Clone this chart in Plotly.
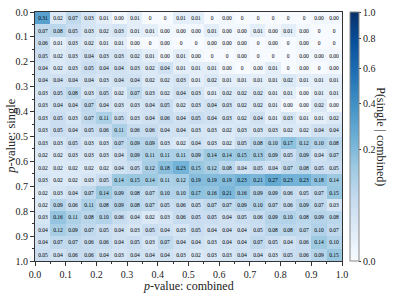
import numpy as np
import plotly.graph_objects as go

# bin centres (p-value bins of width 0.05)
p_combined_bins = [0.025, 0.075, 0.125, 0.175, 0.225, 0.275, 0.325, 0.375, 0.425, 0.475,
                   0.525, 0.575, 0.625, 0.675, 0.725, 0.775, 0.825, 0.875, 0.925, 0.975]
p_single_bins = list(p_combined_bins)
tick_vals = [0.0, 0.1, 0.2, 0.3, 0.4, 0.5, 0.6, 0.7, 0.8, 0.9, 1.0]
tick_labels = ["0.0", "0.1", "0.2", "0.3", "0.4", "0.5", "0.6", "0.7", "0.8", "0.9", "1.0"]
cbar_vals = [0.0, 0.2, 0.4, 0.6, 0.8, 1.0]
cbar_labels = ["0.0", "0.2", "0.4", "0.6", "0.8", "1.0"]

T = 0.001  # non-zero value that displays as 0.00

row_00 = [0.31, 0.02, 0.07, 0.03, 0.01, T, 0.01, 0, 0, 0.01, 0.01, 0, T, 0, 0, 0, 0, 0, T, T]
row_01 = [0.07, 0.08, 0.05, 0.03, 0.02, 0.03, 0.01, 0.01, T, T, T, 0.01, T, T, 0.01, T, 0.01, T, 0, 0]
row_02 = [0.06, 0.01, 0.03, 0.02, 0.01, 0.01, T, 0, T, 0, 0, T, T, T, 0, T, 0, T, 0, 0]
row_03 = [0.05, 0.02, 0.03, 0.04, 0.03, 0.03, 0.02, 0.01, T, 0.01, T, 0, 0, T, 0, 0, 0, T, T, T]
row_04 = [0.04, 0.02, 0.03, 0.05, 0.04, 0.04, 0.03, 0.02, 0.04, 0.01, 0.01, 0.01, T, 0, T, 0.01, 0, T, 0, T]
row_05 = [0.04, 0.04, 0.04, 0.04, 0.03, 0.04, 0.04, 0.02, 0.02, 0.03, 0.01, 0.02, 0.01, 0.01, 0.01, 0.01, 0.02, 0.01, 0.01, 0.01]
row_06 = [0.03, 0.05, 0.08, 0.03, 0.05, 0.02, 0.07, 0.03, 0.02, 0.04, 0.03, 0.01, 0.02, 0.02, 0.02, 0.01, 0.01, T, 0.01, 0.01]
row_07 = [0.03, 0.04, 0.04, 0.07, 0.04, 0.03, 0.03, 0.04, 0.05, 0.02, 0.03, 0.04, 0.03, 0.02, 0.02, 0.01, T, T, 0.02, T]
row_08 = [0.03, 0.05, 0.03, 0.07, 0.11, 0.05, 0.03, 0.04, 0.06, 0.04, 0.05, 0.04, 0.03, 0.02, 0.04, 0.01, 0.03, 0.01, 0.01, 0.02]
row_09 = [0.03, 0.05, 0.04, 0.05, 0.06, 0.11, 0.06, 0.06, 0.04, 0.04, 0.03, 0.03, 0.02, 0.03, 0.03, 0.03, 0.02, 0.02, 0.04, 0.04]
row_10 = [0.03, 0.03, 0.05, 0.03, 0.03, 0.07, 0.09, 0.09, 0.03, 0.02, 0.04, 0.03, 0.02, 0.05, 0.08, 0.10, 0.17, 0.12, 0.10, 0.08]
row_11 = [0.02, 0.02, 0.03, 0.03, 0.03, 0.04, 0.09, 0.11, 0.11, 0.11, 0.09, 0.14, 0.14, 0.15, 0.13, 0.09, 0.05, 0.09, 0.04, 0.07]
row_12 = [0.02, 0.02, 0.02, 0.02, 0.02, 0.04, 0.05, 0.12, 0.18, 0.23, 0.15, 0.12, 0.08, 0.04, 0.05, 0.04, 0.07, 0.08, 0.05, 0.05]
row_13 = [0.03, 0.02, 0.02, 0.03, 0.05, 0.14, 0.15, 0.14, 0.11, 0.12, 0.19, 0.19, 0.19, 0.23, 0.21, 0.27, 0.23, 0.23, 0.18, 0.14]
row_14 = [0.02, 0.03, 0.04, 0.07, 0.14, 0.09, 0.08, 0.07, 0.10, 0.10, 0.17, 0.16, 0.21, 0.16, 0.09, 0.09, 0.06, 0.05, 0.07, 0.15]
row_15 = [0.02, 0.09, 0.06, 0.11, 0.08, 0.09, 0.08, 0.07, 0.05, 0.06, 0.05, 0.07, 0.07, 0.09, 0.10, 0.07, 0.06, 0.09, 0.07, 0.03]
row_16 = [0.03, 0.16, 0.11, 0.08, 0.10, 0.06, 0.04, 0.02, 0.03, 0.06, 0.05, 0.05, 0.04, 0.05, 0.06, 0.09, 0.10, 0.08, 0.09, 0.08]
row_17 = [0.04, 0.12, 0.09, 0.07, 0.05, 0.04, 0.03, 0.05, 0.04, 0.03, 0.05, 0.04, 0.04, 0.04, 0.05, 0.08, 0.08, 0.07, 0.10, 0.07]
row_18 = [0.04, 0.07, 0.07, 0.06, 0.06, 0.04, 0.05, 0.03, 0.07, 0.04, 0.04, 0.03, 0.04, 0.04, 0.07, 0.05, 0.04, 0.06, 0.14, 0.10]
row_19 = [0.05, 0.04, 0.06, 0.06, 0.04, 0.03, 0.04, 0.04, 0.04, 0.03, 0.02, 0.03, 0.03, 0.04, 0.04, 0.03, 0.05, 0.06, 0.09, 0.15]

rows = [row_00, row_01, row_02, row_03, row_04, row_05, row_06, row_07, row_08, row_09,
        row_10, row_11, row_12, row_13, row_14, row_15, row_16, row_17, row_18, row_19]
values = np.array(rows, dtype=float)
text = [["0" if v == 0 else f"{v:.2f}" for v in r] for r in rows]

# matplotlib "Blues" with a power (gamma 0.5) norm
blues = [[0.0, "#f7fbff"], [0.125, "#deebf7"], [0.25, "#c6dbef"], [0.375, "#9ecae1"],
         [0.5, "#6baed6"], [0.625, "#4292c6"], [0.75, "#2171b5"], [0.875, "#08519c"],
         [1.0, "#08306b"]]
gamma = 0.5
z = values ** gamma

FONT = "Liberation Serif"

fig = go.Figure(go.Heatmap(
    x=p_combined_bins, y=p_single_bins, z=z, zmin=0, zmax=1,
    colorscale=blues,
    text=text, texttemplate="%{text}",
    textfont=dict(size=5.5, color="black", family=FONT),
    hoverinfo="skip",
    colorbar=dict(
        thickness=9, len=1, lenmode="fraction", y=0.5, yanchor="middle",
        x=1.026, xanchor="left", xpad=0, ypad=0,
        outlinewidth=1, outlinecolor="#888",
        tickvals=[v ** gamma for v in cbar_vals], ticktext=cbar_labels,
        ticks="outside", ticklen=2, tickcolor="#333",
        tickfont=dict(size=10, family=FONT, color="#222"),
        ticklabeloverflow="allow",
    ),
))

axis_common = dict(
    tickvals=tick_vals, ticktext=tick_labels, ticks="outside", ticklen=4,
    tickcolor="#333", showline=True, linecolor="#333", linewidth=1, mirror=True,
    showgrid=False, zeroline=False, ticklabeloverflow="allow",
    tickfont=dict(size=10, family=FONT, color="#222"),
    minor=dict(dtick=0.05, tick0=0, ticks="outside", ticklen=2, tickcolor="#333"),
)

fig.update_layout(
    width=395, height=296,
    margin=dict(l=35, r=53, t=6, b=35),
    paper_bgcolor="white", plot_bgcolor="white",
    xaxis=dict(range=[0, 1], **axis_common),
    yaxis=dict(range=[1, 0], **axis_common),
    font=dict(family=FONT, color="#222"),
    annotations=[
        dict(text="<i>p</i>-value: combined", xref="paper", yref="paper", x=0.5, y=-0.102,
             xanchor="center", yanchor="middle", showarrow=False, font=dict(size=12, family=FONT)),
        dict(text="<i>p</i>-value: single", xref="paper", yref="paper", x=-0.081, y=0.5,
             xanchor="center", yanchor="middle", textangle=-90, showarrow=False,
             font=dict(size=12.5, family=FONT)),
        dict(text="P(single | combined)", xref="paper", yref="paper", x=1.128, y=0.5,
             xanchor="center", yanchor="middle", textangle=90, showarrow=False,
             font=dict(size=12, family=FONT)),
    ],
)

fig.write_html(
    "out.html",
    config={"displayModeBar": False},
    post_script="document.body.style.margin='0';document.body.style.padding='0';",
)
